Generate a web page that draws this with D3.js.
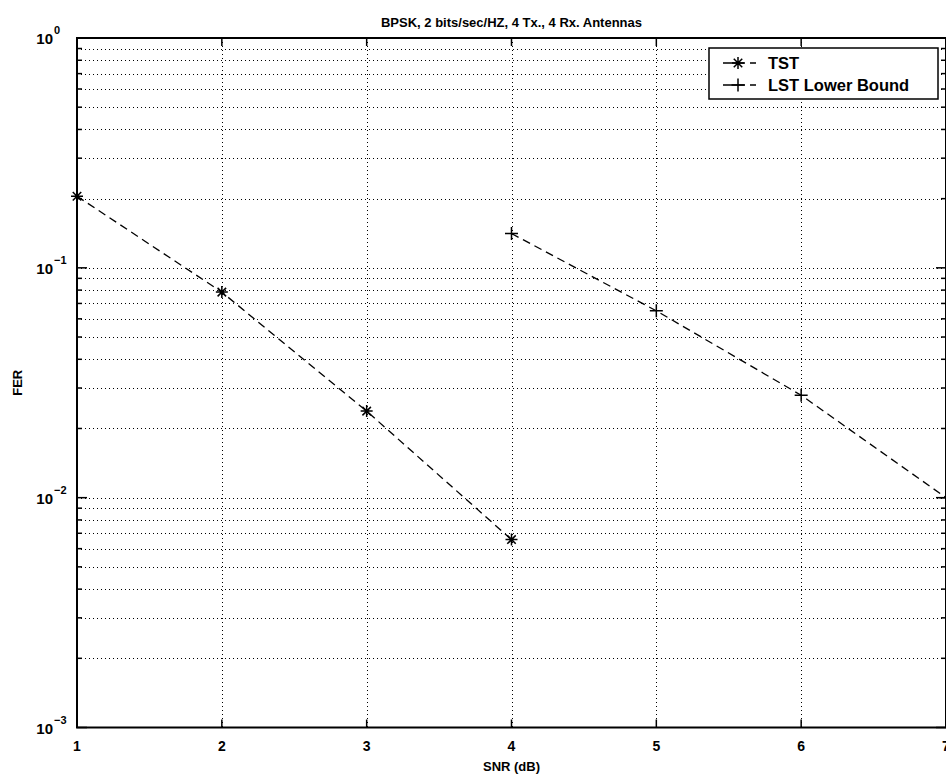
<!DOCTYPE html>
<html>
<head>
<meta charset="utf-8">
<script src="https://cdn.jsdelivr.net/npm/d3@7"></script>
<style>
  body { margin: 0; background: #fff; }
  text { font-family: "Liberation Sans", Arial, sans-serif; fill: #000; }
</style>
</head>
<body>
<div id="chart"></div>
<script>
// data
var snrTicks = [1, 2, 3, 4, 5, 6, 7];
var tstSnr = [1, 2, 3, 4];
var tstFer = [0.205, 0.0784, 0.0238, 0.00657];
var lstSnr = [4, 5, 6, 7];
var lstFer = [0.141, 0.065, 0.0279, 0.0100];
var decadeExps = [0, -1, -2, -3];
var seriesNames = ["TST", "LST Lower Bound"];

// svg container
var svgWidth = 946;
var svgHeight = 779;

var margin = { top: 38, right: 0, bottom: 51.5, left: 77 };
var chartWidth = 869;
var chartHeight = svgHeight - margin.top - margin.bottom;

var svg = d3.select("#chart").append("svg")
  .attr("width", svgWidth)
  .attr("height", svgHeight);

var chartGroup = svg.append("g")
  .attr("transform", `translate(${margin.left}, ${margin.top})`);

// scales
var xScale = d3.scaleLinear().domain([1, 7]).range([0, chartWidth]);
var yScale = d3.scaleLog().domain([1e-3, 1]).range([chartHeight, 0]);

// minor values for log grid
var minorVals = [];
decadeExps.slice(1).forEach(function(e) {
  for (var k = 1; k <= 9; k++) minorVals.push(k * Math.pow(10, e));
});
minorVals.push(1);

// grid lines
var grid = chartGroup.append("g")
  .attr("stroke", "#000")
  .attr("stroke-width", 1)
  .attr("stroke-dasharray", "1,3");

grid.selectAll(".hgrid")
  .data(minorVals.filter(v => v > 1e-3 && v < 1))
  .enter().append("line")
  .attr("x1", 0).attr("x2", chartWidth)
  .attr("y1", d => Math.round(yScale(d)) + 0.5)
  .attr("y2", d => Math.round(yScale(d)) + 0.5);

grid.selectAll(".vgrid")
  .data(snrTicks.slice(1, -1))
  .enter().append("line")
  .attr("y1", 0).attr("y2", chartHeight)
  .attr("x1", d => Math.round(xScale(d)) + 0.5)
  .attr("x2", d => Math.round(xScale(d)) + 0.5);

// ticks (inside, on all four sides)
var ticks = chartGroup.append("g").attr("stroke", "#000").attr("stroke-width", 1.5);
minorVals.forEach(function(v) {
  var major = decadeExps.some(e => Math.abs(v - Math.pow(10, e)) < 1e-12);
  var len = major ? 10 : 5;
  var y = yScale(v);
  ticks.append("line").attr("x1", 0).attr("x2", len).attr("y1", y).attr("y2", y);
  ticks.append("line").attr("x1", chartWidth).attr("x2", chartWidth - len).attr("y1", y).attr("y2", y);
});
snrTicks.forEach(function(t) {
  var x = xScale(t);
  ticks.append("line").attr("x1", x).attr("x2", x).attr("y1", chartHeight).attr("y2", chartHeight - 8);
  ticks.append("line").attr("x1", x).attr("x2", x).attr("y1", 0).attr("y2", 8);
});

// axes box
chartGroup.append("rect")
  .attr("x", 0).attr("y", 0)
  .attr("width", chartWidth).attr("height", chartHeight)
  .attr("fill", "none")
  .attr("stroke", "#000")
  .attr("stroke-width", 2);

// x tick labels
chartGroup.selectAll(".xlab")
  .data(snrTicks)
  .enter().append("text")
  .attr("x", d => xScale(d))
  .attr("y", chartHeight + 23)
  .attr("text-anchor", "middle")
  .style("font-size", "14px")
  .style("font-weight", "bold")
  .text(d => d);

// y tick labels 10^e
decadeExps.forEach(function(e) {
  var y = yScale(Math.pow(10, e));
  chartGroup.append("text")
    .attr("x", -24)
    .attr("y", y + 6)
    .attr("text-anchor", "end")
    .style("font-size", "15px")
    .style("font-weight", "bold")
    .text("10");
  chartGroup.append("text")
    .attr("x", -23)
    .attr("y", y - 4)
    .style("font-size", "11px")
    .style("font-weight", "bold")
    .text(e === 0 ? "0" : "\u2212" + Math.abs(e));
});

// series lines
var line = d3.line()
  .x(d => xScale(d[0]))
  .y(d => yScale(d[1]));

var tstData = d3.zip(tstSnr, tstFer);
var lstData = d3.zip(lstSnr, lstFer);

[tstData, lstData].forEach(function(data) {
  chartGroup.append("path")
    .datum(data)
    .attr("d", line)
    .attr("fill", "none")
    .attr("stroke", "#000")
    .attr("stroke-width", 1.3)
    .attr("stroke-dasharray", "8,5");
});

// markers
function starPath(r) {
  var p = "";
  for (var i = 0; i < 4; i++) {
    var a = i * Math.PI / 4;
    p += `M${-r * Math.cos(a)},${-r * Math.sin(a)}L${r * Math.cos(a)},${r * Math.sin(a)}`;
  }
  return p;
}
function plusPath(r) {
  return `M${-r},0L${r},0M0,${-r}L0,${r}`;
}

chartGroup.selectAll(".star")
  .data(tstData)
  .enter().append("path")
  .attr("transform", d => `translate(${xScale(d[0])},${yScale(d[1])})`)
  .attr("d", starPath(6))
  .attr("stroke", "#000")
  .attr("stroke-width", 1.5);

chartGroup.selectAll(".plus")
  .data(lstData)
  .enter().append("path")
  .attr("transform", d => `translate(${xScale(d[0])},${yScale(d[1])})`)
  .attr("d", plusPath(6.5))
  .attr("stroke", "#000")
  .attr("stroke-width", 1.5);

// legend
var legend = svg.append("g").attr("transform", "translate(709, 48)");
legend.append("rect")
  .attr("width", 229).attr("height", 51)
  .attr("fill", "#fff")
  .attr("stroke", "#000")
  .attr("stroke-width", 1.5);

seriesNames.forEach(function(name, i) {
  var ly = 15 + i * 22;
  legend.append("line")
    .attr("x1", 14).attr("x2", 50)
    .attr("y1", ly).attr("y2", ly)
    .attr("stroke", "#000")
    .attr("stroke-width", 1.3)
    .attr("stroke-dasharray", "22,5,6,30");
  legend.append("path")
    .attr("transform", `translate(29,${ly})`)
    .attr("d", i === 0 ? starPath(6) : plusPath(6.5))
    .attr("stroke", "#000")
    .attr("stroke-width", 1.5);
  legend.append("text")
    .attr("x", 59)
    .attr("y", ly + 6)
    .style("font-size", "16.5px")
    .style("font-weight", "bold")
    .text(name);
});

// title and axis labels
svg.append("text")
  .attr("x", margin.left + chartWidth / 2)
  .attr("y", 27)
  .attr("text-anchor", "middle")
  .style("font-size", "13px")
  .style("font-weight", "bold")
  .text("BPSK, 2 bits/sec/HZ, 4 Tx., 4 Rx. Antennas");

svg.append("text")
  .attr("x", margin.left + chartWidth / 2)
  .attr("y", 771)
  .attr("text-anchor", "middle")
  .style("font-size", "13px")
  .style("font-weight", "bold")
  .text("SNR (dB)");

svg.append("text")
  .attr("transform", `translate(22, ${margin.top + chartHeight / 2}) rotate(-90)`)
  .attr("text-anchor", "middle")
  .style("font-size", "13px")
  .style("font-weight", "bold")
  .text("FER");
</script>
</body>
</html>
